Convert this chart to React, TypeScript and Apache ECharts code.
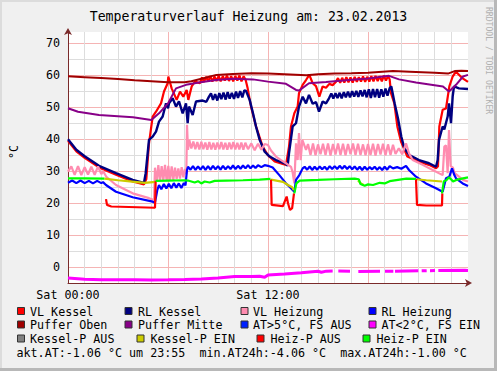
import React, { useEffect, useRef } from "react";
import * as echarts from "echarts";

type P = [number, number | string];

const titleText = "Temperaturverlauf Heizung am: 23.02.2013";
const xLabels: Record<number, string> = { 0: "Sat 00:00", 12: "Sat 12:00" };
const yLabelValues = [0, 10, 20, 30, 40, 50, 60, 70];

const vlKessel: P[] = [
  [0, 39.4], [0.5, 36.1], [1, 34.1], [1.86, 31.1], [2.88, 28.8], [3.88, 26.7], [4.56, 25.8], [4.7, 27.5], [4.86, 38.6],
  [5.08, 47.0], [5.28, 48.5], [5.58, 51.1], [5.76, 54.8], [5.98, 57.4], [6.02, 59.5], [6.22, 55.8], [6.52, 52.2], [6.72, 54.8],
  [6.92, 53.2], [7.12, 55.3], [7.22, 52.2], [7.42, 56.4], [7.62, 57.9], [7.92, 57.4],
  [8.04, 59.2], [8.16, 57.8], [8.29, 59.4], [8.41, 58.0], [8.54, 59.6], [8.66, 57.9], [8.79, 59.5], [8.91, 58.1], [9.04, 59.7],
  [9.16, 58.0], [9.29, 59.6], [9.41, 58.2], [9.54, 59.8], [9.66, 58.1], [9.79, 59.6], [9.91, 58.0], [10.04, 59.7], [10.16, 58.2],
  [10.29, 59.8], [10.41, 58.0], [10.54, 59.6], [10.66, 58.4],
  [10.78, 55.8], [10.98, 50.1], [11.28, 43.9], [11.68, 37.6], [11.98, 35.0], [12.4, 33.0], [13.08, 31.9], [13.26, 37.6],
  [13.38, 43.9], [13.58, 48.0], [13.78, 50.1], [13.86, 54.3], [14.08, 56.9], [14.28, 58.4], [14.48, 60.0], [14.68, 57.4],
  [14.88, 56.5], [15.08, 53.2], [15.28, 56.4], [15.48, 56.0], [15.68, 57.2], [15.88, 56.8],
  [16.08, 57.9], [16.2, 59.0], [16.33, 57.5], [16.45, 59.1], [16.58, 57.6], [16.7, 59.3], [16.83, 57.7], [16.95, 59.2],
  [17.08, 57.6], [17.2, 59.4], [17.33, 57.8], [17.45, 59.3], [17.58, 57.9], [17.7, 59.5], [17.83, 57.8], [17.95, 59.4],
  [18.08, 57.9], [18.2, 59.6], [18.33, 58.0], [18.45, 59.7], [18.58, 58.1], [18.7, 59.6], [18.83, 58.0], [18.95, 59.8],
  [19.08, 58.2], [19.2, 59.7], [19.3, 58.6], [19.38, 54.3], [19.58, 51.1], [19.76, 43.9], [19.98, 39.2], [20.36, 34.5],
  [21.06, 32.9], [21.66, 31.9], [22.08, 30.8], [22.2, 31.5], [22.28, 43.9], [22.48, 49.1], [22.68, 49.5], [22.88, 56.4],
  [23.08, 59.5], [23.28, 61.0], [23.68, 58.9], [24, 57.8],
];

const rlKessel: P[] = [
  [0, 39.9], [0.5, 36.6], [1, 34.6], [1.86, 31.6], [2.88, 29.3], [3.88, 27.2], [4.56, 26.3], [4.66, 29.3], [4.86, 39.7],
  [5.08, 40.7], [5.28, 42.3], [5.46, 45.4], [5.68, 47.0], [5.88, 51.1], [6.0, 49.6], [6.06, 51.1], [6.28, 52.7], [6.48, 50.1],
  [6.66, 51.7], [6.88, 48.0], [7.08, 51.1], [7.18, 44.9], [7.26, 50.1], [7.48, 47.5], [7.68, 51.7], [8.08, 52.0], [8.3, 51.6],
  [8.46, 53.2], [8.58, 54.2], [8.7, 52.2], [8.83, 54.0], [8.96, 52.0], [9.08, 54.3], [9.2, 52.4], [9.33, 54.5], [9.46, 52.3],
  [9.58, 54.6], [9.7, 52.6], [9.83, 54.4], [9.96, 52.5], [10.08, 54.8], [10.2, 52.8], [10.33, 54.9], [10.46, 53.0],
  [10.58, 55.2], [10.68, 55.0], [10.9, 52.2], [11.1, 48.0], [11.28, 43.9], [11.5, 39.7], [11.8, 36.0], [12.1, 34.5],
  [12.48, 33.4], [13.08, 32.2], [13.18, 31.6], [13.26, 35.5], [13.48, 43.9], [13.68, 44.9], [13.86, 50.1], [14.08, 53.2],
  [14.28, 51.1], [14.46, 53.75], [14.68, 51.0], [14.88, 51.5], [15.06, 48.5], [15.28, 51.7], [15.48, 51.1], [15.66, 52.7],
  [15.8, 54.2], [15.92, 52.6], [16.05, 54.3], [16.17, 52.8], [16.3, 54.4], [16.42, 52.7], [16.55, 54.6], [16.67, 53.0],
  [16.8, 54.8], [16.92, 53.0], [17.05, 54.9], [17.17, 53.2], [17.3, 55.0], [17.42, 53.1], [17.55, 55.2], [17.67, 53.3],
  [17.8, 55.3], [17.92, 53.0], [18.05, 55.5], [18.17, 52.8], [18.3, 55.6], [18.42, 53.0], [18.55, 55.6], [18.67, 52.9],
  [18.8, 55.5], [18.92, 53.2], [19.05, 55.7], [19.17, 53.5], [19.3, 55.9], [19.4, 56.4], [19.6, 51.1], [19.8, 46.4],
  [20.0, 40.7], [20.18, 37.1], [20.48, 35.0], [21.06, 33.4], [21.66, 32.4], [22.08, 31.3], [22.18, 33.4], [22.26, 39.7],
  [22.48, 43.9], [22.58, 43.0], [22.78, 47.0], [22.86, 51.1], [22.98, 44.9], [23.08, 53.2], [23.16, 56.4], [23.46, 55.8],
  [24, 55.6],
];

const vlHeizung: P[] = [
  [0, 29.8], [0.2, 31.4], [0.4, 28.8], [0.6, 31.5], [0.8, 28.7], [1.0, 31.2], [1.2, 28.9], [1.4, 31.3], [1.6, 28.8],
  [1.8, 31.4], [2.0, 29.0], [2.1, 30.0], [2.3, 28.2], [2.88, 25.6], [3.88, 23.0], [4.86, 21.5], [5.16, 20.9],
  [5.22, 31.0], [5.32, 26.6], [5.42, 31.8], [5.52, 26.8], [5.62, 31.5], [5.72, 27.0], [5.82, 31.9], [5.92, 26.8],
  [6.02, 31.6], [6.12, 27.0], [6.22, 31.4], [6.32, 27.2], [6.42, 31.0], [6.52, 27.5], [6.62, 30.8], [6.72, 27.6],
  [6.82, 31.2], [6.92, 28.0], [7.02, 30.6], [7.1, 29.0], [7.14, 44.4], [7.2, 36.6], [7.28, 39.7],
  [7.4, 37.0], [7.52, 39.2], [7.64, 36.8], [7.76, 39.0], [7.88, 36.7], [8.0, 39.1], [8.12, 36.8], [8.24, 38.9],
  [8.36, 36.6], [8.48, 39.0], [8.6, 36.7], [8.72, 38.8], [8.84, 36.6], [8.96, 38.9], [9.08, 36.8], [9.2, 39.0],
  [9.32, 36.7], [9.44, 38.8], [9.56, 36.6], [9.68, 38.9], [9.8, 36.8], [9.92, 39.0], [10.04, 36.7], [10.16, 38.8],
  [10.28, 36.7], [10.4, 38.9], [10.52, 36.6], [10.64, 38.8], [10.8, 36.8], [11.0, 38.6], [11.2, 36.5], [11.4, 38.5],
  [11.6, 36.6], [11.8, 38.4], [12.0, 38.1], [12.18, 36.4], [12.48, 34.5], [12.78, 33.4], [13.08, 32.4], [13.38, 31.3],
  [13.48, 29.5], [13.58, 26.1], [13.68, 38.6], [13.78, 33.4], [13.86, 41.8], [13.96, 33.4], [14.06, 39.7], [14.28, 36.6],
  [14.4, 38.4], [14.55, 35.0], [14.7, 38.6], [14.85, 34.9], [15.0, 38.3], [15.15, 35.2], [15.3, 38.5], [15.45, 35.0],
  [15.6, 38.6], [15.75, 34.8], [15.9, 38.4], [16.05, 35.1], [16.2, 38.6], [16.35, 35.0], [16.5, 38.5], [16.65, 34.9],
  [16.8, 38.4], [16.95, 35.2], [17.1, 38.6], [17.25, 35.0], [17.4, 38.5], [17.55, 35.0], [17.7, 38.3], [17.85, 34.9],
  [18.0, 38.4], [18.15, 35.0], [18.3, 38.5], [18.45, 34.8], [18.6, 38.4], [18.75, 35.1], [18.9, 38.5], [19.05, 34.9],
  [19.2, 38.3], [19.35, 35.0], [19.5, 38.2], [19.65, 35.3], [19.85, 37.1], [20.05, 35.2], [20.28, 38.6], [20.46, 35.5],
  [20.68, 33.4], [21.28, 31.9], [21.88, 30.3], [22.48, 28.7], [22.58, 37.6], [22.68, 38.0], [22.78, 29.3], [22.86, 42.8],
  [22.96, 31.5], [23.1, 31.0], [23.2, 29.3], [23.7, 27.2], [24, 26.7],
];

const rlHeizung: P[] = [
  [0, 26.3], [0.25, 27.0], [0.5, 26.2], [0.75, 27.0], [1.0, 26.2], [1.25, 26.9], [1.5, 26.1], [1.75, 26.9], [2.0, 26.2],
  [2.1, 26.5], [2.28, 25.6], [2.88, 23.5], [3.88, 21.8], [5.08, 20.4], [5.22, 20.1], [5.36, 24.1], [5.46, 25.6],
  [5.6, 24.3], [5.75, 25.9], [5.9, 24.5], [6.05, 26.0], [6.2, 24.6], [6.35, 26.2], [6.5, 24.8], [6.65, 26.1], [6.8, 24.7],
  [6.95, 26.2], [7.05, 25.5], [7.14, 30.3], [7.2, 31.3],
  [7.35, 30.4], [7.5, 31.5], [7.65, 30.3], [7.8, 31.4], [7.95, 30.4], [8.1, 31.5], [8.25, 30.3], [8.4, 31.5], [8.55, 30.4],
  [8.7, 31.6], [8.85, 30.5], [9.0, 31.5], [9.15, 30.4], [9.3, 31.6], [9.45, 30.5], [9.6, 31.5], [9.75, 30.6], [9.9, 31.7],
  [10.05, 30.6], [10.2, 31.6], [10.35, 30.7], [10.5, 31.7], [10.65, 30.8], [10.8, 31.8], [10.95, 30.8], [11.1, 31.7],
  [11.25, 30.9], [11.4, 31.8], [11.6, 31.2], [11.8, 31.8], [12.0, 31.6], [12.28, 31.1], [12.68, 28.7], [13.08, 26.1],
  [13.38, 24.6], [13.58, 23.5], [13.68, 27.2], [13.88, 28.7], [14.08, 30.8],
  [14.2, 31.3], [14.35, 30.4], [14.5, 31.4], [14.65, 30.3], [14.8, 31.3], [14.95, 30.4], [15.1, 31.4], [15.25, 30.5],
  [15.4, 31.3], [15.55, 30.4], [15.7, 31.5], [15.85, 30.6], [16.0, 31.5], [16.15, 30.6], [16.3, 31.6], [16.45, 30.7],
  [16.6, 31.6], [16.75, 30.6], [16.9, 31.5], [17.05, 30.5], [17.2, 31.4], [17.35, 30.4], [17.5, 31.3], [17.65, 30.3],
  [17.8, 31.3], [17.95, 30.4], [18.1, 31.2], [18.25, 30.5], [18.4, 31.3], [18.55, 30.4], [18.7, 31.2], [18.85, 30.3],
  [19.0, 31.3], [19.15, 30.4], [19.3, 31.5], [19.5, 30.8], [19.75, 31.2], [20.0, 30.7], [20.28, 31.6], [20.46, 30.3],
  [20.88, 28.2], [21.48, 26.1], [22.08, 24.6], [22.48, 23.5], [22.68, 27.7], [22.88, 28.2], [23.04, 30.8], [23.18, 28.7],
  [23.28, 27.7], [23.68, 26.1], [24, 25.3],
];

const pufferOben: P[] = [
  [0, 59.6], [1, 59.3], [2, 59.0], [3, 58.7], [4, 58.3], [5, 58.0], [6, 57.7], [7, 57.7], [7.4, 58.0], [8, 58.8],
  [8.9, 60.0], [9.9, 60.3], [11, 60.5], [12, 60.4], [13, 60.2], [14.3, 59.9], [15, 60.2], [16, 60.4], [17, 60.5],
  [18, 60.7], [19.5, 61.2], [20.5, 61.0], [22, 60.7], [22.8, 60.4], [23.2, 61.2], [23.6, 61.3], [24, 61.2],
];

const pufferMitte: P[] = [
  [0, 49.6], [0.6, 48.5], [1.86, 47.5], [3.9, 46.8], [5.0, 45.9], [5.46, 48.0], [6.0, 51.1], [6.48, 55.8], [7.08, 56.9],
  [7.86, 57.6], [8.88, 58.4], [9.9, 58.8], [11.1, 58.6], [12.0, 57.9], [13.08, 57.2], [13.68, 55.3], [13.86, 55.1],
  [14.46, 57.4], [15.48, 57.8], [16.86, 58.4], [18.0, 58.9], [19.26, 59.7], [19.86, 58.6], [20.88, 57.6], [22.5, 56.4],
  [22.86, 54.8], [23.28, 56.9], [23.7, 59.5], [24, 60.0],
];

const atUnder2: P[] = [
  [0, -3.45], [1, -3.85], [2, -3.95], [3, -4.0], [4, -4.0], [5, -4.06], [6, -4.0], [7, -3.9], [8, -3.75], [9, -3.45],
  [9.5, -3.2], [10, -3.0], [11, -3.0], [11.5, -2.9], [11.8, -3.2], [12, -2.5], [13, -2.2], [14, -1.8], [15, -1.35],
  [15.2, -1.65], [15.5, -1.3], [15.88, -1.25], [16.05, "-"], [16.22, -1.25], [16.92, -1.3], [17.2, "-"], [17.42, -1.4],
  [18.72, -1.35], [18.9, "-"], [19.02, -1.3], [19.52, -1.3], [19.57, "-"], [19.62, -1.3], [21.02, -1.2], [21.1, "-"],
  [21.22, -1.2], [21.52, -1.15], [21.6, "-"], [21.72, -1.15], [22.02, -1.1], [22.1, "-"], [22.22, -1.1], [23.82, -1.03],
  [24, -1.06],
];

const atOver5: P[] = [];
const kesselPAus: P[] = [];

const kesselPEin: P[] = [
  [2.18, 27.6], [3.0, 27.1], [4.0, 26.6], [4.6, 26.3], [5.26, 26.6], [5.3, "-"], [12.18, 27.3], [12.9, 26.6],
  [13.2, 25.6], [13.45, 24.9], [13.55, 24.0], [13.6, "-"], [17.4, 27.0], [17.6, 26.0], [17.75, 25.6], [17.8, "-"],
  [20.9, 27.4], [21.5, 27.1], [22.44, 26.7],
];

const heizPAus: P[] = [
  [2.28, 21.2], [2.34, 19.4], [2.6, 18.9], [5.22, 18.5], [5.26, 26.9], [5.3, "-"], [12.18, 27.3], [12.22, 19.4],
  [12.9, 19.0], [13.0, 20.4], [13.12, 22.0], [13.2, 19.9], [13.32, 17.8], [13.45, 18.4], [13.56, 23.0], [13.6, "-"],
  [20.88, 27.5], [20.94, 19.4], [21.5, 19.2], [22.44, 19.2], [22.46, 23.0],
];

const heizPEin: P[] = [
  [0, 27.7], [1, 27.7], [2.18, 27.6], [2.2, "-"], [5.26, 26.9], [6.0, 27.0], [7.0, 27.1], [7.2, 27.0], [7.6, 26.4],
  [7.8, 26.8], [8.0, 26.1], [8.2, 26.7], [8.5, 26.4], [8.8, 26.9], [9.5, 27.0], [10.5, 27.1], [11.5, 27.3],
  [12.15, 27.5], [12.2, "-"], [13.58, 23.0], [13.7, 26.1], [13.9, 27.0], [15, 27.2], [16, 27.4], [17.2, 27.6],
  [17.45, 27.4], [17.55, 25.9], [17.8, 25.4], [18.0, 25.8], [18.3, 25.6], [18.7, 26.3], [19.0, 26.1], [19.3, 26.8],
  [19.9, 27.3], [20.3, 27.6], [20.88, 27.5], [20.9, "-"], [22.44, 23.0], [22.55, 26.8], [22.7, 27.1], [22.86, 28.0],
  [23.0, 27.3], [23.1, 26.7], [23.3, 27.2], [23.7, 27.7], [24, 28.0],
];

const seriesNames = [
  "VL Kessel", "RL Kessel", "VL Heizung", "RL Heizung",
  "Puffer Oben", "Puffer Mitte", "AT>5°C, FS AUS", "AT<2°C, FS EIN",
  "Kessel-P AUS", "Kessel-P EIN", "Heiz-P AUS", "Heiz-P EIN",
];
const seriesColors = [
  "#FF0000", "#000080", "#FF8CB0", "#0000FF",
  "#A00000", "#880088", "#0022FF", "#FF00FF",
  "#808080", "#CCCC00", "#FF0000", "#00FF00",
];
const seriesData = [
  vlKessel, rlKessel, vlHeizung, rlHeizung,
  pufferOben, pufferMitte, atOver5, atUnder2,
  kesselPAus, kesselPEin, heizPAus, heizPEin,
];
const seriesWidths = [2.2, 2.4, 2.2, 2.2, 2, 2, 2, 3, 2.2, 2.2, 2.2, 2.2];

const infoText = "akt.AT:-1.06 °C um 23:55  min.AT24h:-4.06 °C  max.AT24h:-1.00 °C";

const FONT = "'DejaVu Sans Mono', monospace";

export default function App() {
  const ref = useRef<HTMLDivElement>(null);
  useEffect(() => {
    if (!ref.current) return;
    const chart = echarts.init(ref.current, undefined, { renderer: "svg" });

    const legendRows = [
      { y: 311.5, sw: [17, 124.5, 240.5, 368.5], tx: [30, 138, 253, 381.5] },
      { y: 325, sw: [17, 124.5, 240.5, 368.5], tx: [30, 138, 253, 381.5] },
      { y: 339, sw: [17, 136.5, 256.5, 362.5], tx: [30, 150.5, 270.5, 376.5] },
    ];
    const legendGraphics: any[] = [];
    seriesNames.forEach((name, i) => {
      const r = legendRows[Math.floor(i / 4)];
      const c = i % 4;
      legendGraphics.push({
        type: "rect",
        shape: { x: r.sw[c] + 0.5, y: r.y - 4, width: 7, height: 7 },
        style: { fill: seriesColors[i], stroke: "#333", lineWidth: 1 },
        silent: true,
      });
      legendGraphics.push({
        type: "text",
        x: r.tx[c],
        y: r.y,
        style: { text: name, font: `11.7px ${FONT}`, fill: "#000", align: "left", verticalAlign: "middle" },
        silent: true,
      });
    });

    const option: any = {
      animation: false,
      backgroundColor: "#F0F0F0",
      grid: {
        left: 68, top: 32, width: 400, height: 251,
        show: true, backgroundColor: "#FFFFFF", borderWidth: 0,
        containLabel: false, outerBoundsMode: "none",
      },
      xAxis: {
        type: "value", min: 0, max: 24, interval: 1,
        axisLine: {
          show: true, onZero: false,
          lineStyle: { color: "#7A2A2A", width: 1 },
          symbol: ["none", "arrow"], symbolSize: [6, 7], symbolOffset: [0, 4],
        },
        axisTick: { show: false },
        axisLabel: {
          formatter: (v: number) => xLabels[v] ?? "",
          fontFamily: FONT, fontSize: 11.7, color: "#000", margin: 6,
          showMinLabel: true, showMaxLabel: true,
        },
        splitLine: {
          show: true, showMaxLine: false,
          lineStyle: { color: ["#F5B4B4", "#DDDDDD", "#DDDDDD", "#DDDDDD", "#DDDDDD", "#DDDDDD"], width: 1 },
        },
      },
      yAxis: {
        type: "value", min: -5, max: 73.4, interval: 5,
        axisLine: {
          show: true, onZero: false,
          lineStyle: { color: "#7A2A2A", width: 1 },
          symbol: ["none", "arrow"], symbolSize: [6, 7], symbolOffset: [0, 4],
        },
        axisTick: { show: false },
        axisLabel: {
          formatter: (v: number) => (yLabelValues.indexOf(v) >= 0 ? String(v) : ""),
          fontFamily: FONT, fontSize: 11.7, color: "#000", margin: 8,
        },
        splitLine: {
          show: true, showMaxLine: false,
          lineStyle: { color: ["#DDDDDD", "#F5B4B4"], width: 1 },
        },
      },
      series: seriesNames.map((name, i) => ({
        name,
        type: "line",
        data: seriesData[i],
        symbol: "none",
        connectNulls: false,
        lineStyle: { color: seriesColors[i], width: seriesWidths[i] },
        itemStyle: { color: seriesColors[i] },
        silent: true,
      })),
      graphic: [
        { type: "rect", shape: { x: 0, y: 0, width: 497, height: 2 }, style: { fill: "#DCDCDC" }, silent: true },
        { type: "rect", shape: { x: 0, y: 0, width: 2, height: 371 }, style: { fill: "#DCDCDC" }, silent: true },
        { type: "rect", shape: { x: 494, y: 0, width: 3, height: 371 }, style: { fill: "#B8B8B8" }, silent: true },
        { type: "rect", shape: { x: 0, y: 368, width: 497, height: 3 }, style: { fill: "#B8B8B8" }, silent: true },
        {
          type: "text", x: 248.5, y: 16,
          style: { text: titleText, font: `13.2px ${FONT}`, fill: "#000", align: "center", verticalAlign: "middle" },
          silent: true,
        },
        {
          type: "text", x: 489, y: 7, rotation: -Math.PI / 2,
          style: { text: "RRDTOOL / TOBI OETIKER", font: `8.1px ${FONT}`, fill: "#B0B0B0", align: "left", verticalAlign: "middle" },
          silent: true,
        },
        {
          type: "text", x: 14, y: 152, rotation: Math.PI / 2,
          style: { text: "°C", font: `11.7px ${FONT}`, fill: "#000", align: "center", verticalAlign: "middle" },
          silent: true,
        },
        ...legendGraphics,
        {
          type: "text", x: 16.5, y: 352.7,
          style: { text: infoText, font: `11.7px ${FONT}`, fill: "#000", align: "left", verticalAlign: "middle" },
          silent: true,
        },
      ],
    };
    chart.setOption(option);
    return () => chart.dispose();
  }, []);
  return (
    <div
      ref={ref}
      style={{ position: "fixed", left: 0, top: 0, width: 497, height: 371 }}
    />
  );
}
